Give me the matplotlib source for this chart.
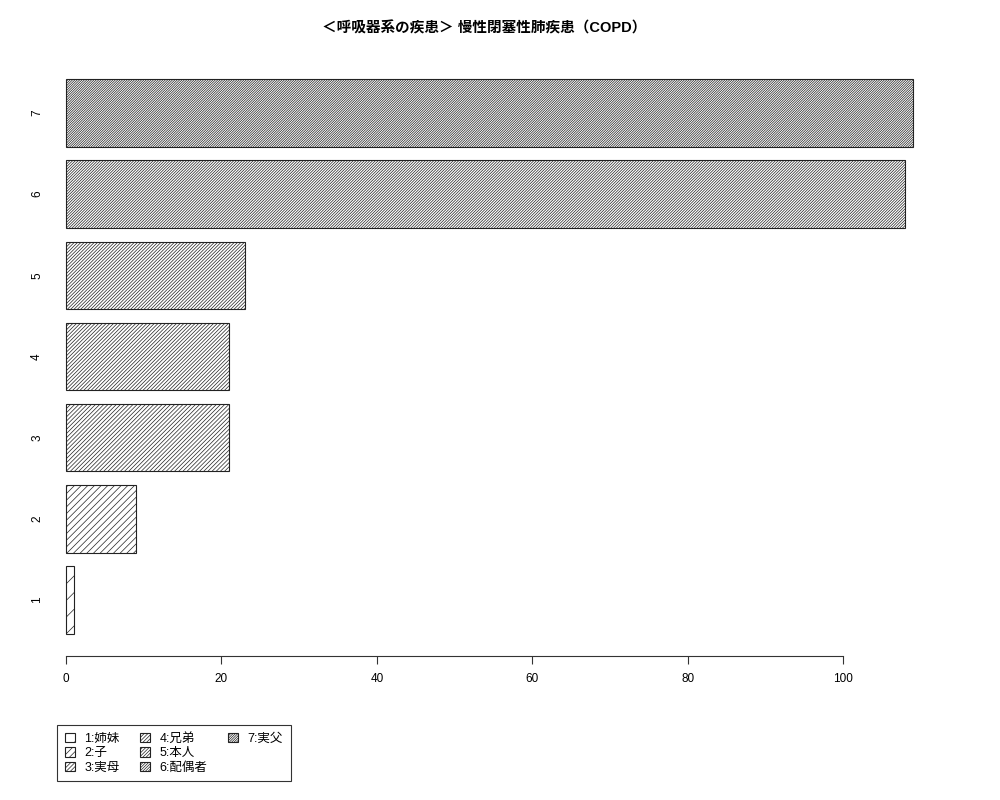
import matplotlib
matplotlib.use("Agg")
import matplotlib.pyplot as plt
from matplotlib.patches import Patch

plt.rcParams["font.family"] = ["Liberation Sans", "Noto Sans CJK JP"]
plt.rcParams["hatch.linewidth"] = 0.5

# data
categories = ["1", "2", "3", "4", "5", "6", "7"]
values = [1, 9, 21, 21, 23, 108, 109]
legend_labels = ["1:姉妹", "2:子", "3:実母", "4:兄弟", "5:本人", "6:配偶者", "7:実父"]
hatch_n = [2, 5, 8, 9, 10, 12, 14]
title = "＜呼吸器系の疾患＞ 慢性閉塞性肺疾患（COPD）"

hatches = ["/" * n for n in hatch_n]

fig = plt.figure(figsize=(10, 8), dpi=100)
ax = fig.add_axes([0.050, 0.18, 0.897, 0.74875])

pos = list(range(1, len(values) + 1))
bars = ax.barh(pos, values, height=1 / 1.2, color="white",
               edgecolor="#222222", linewidth=0.8)
for b, h in zip(bars, hatches):
    b.set_hatch(h)

ax.set_xlim(-2.06, 113.36)
ax.set_ylim(0.31, 7.69)

for s in ["top", "right", "left"]:
    ax.spines[s].set_visible(False)
ax.spines["bottom"].set_bounds(0, 100)
ax.spines["bottom"].set_color("#333333")
ax.spines["bottom"].set_linewidth(0.8)

ax.set_xticks([0, 20, 40, 60, 80, 100])
ax.tick_params(axis="x", length=6, width=0.8, color="#333333",
               labelsize=8.5, pad=6)
ax.set_yticks(pos)
ax.set_yticklabels(categories, rotation=90, va="center")
ax.tick_params(axis="y", length=0, labelsize=8.5, pad=5)

fig.text(0.484, 0.964, title, ha="center", va="center",
         fontsize=10.5, fontweight="bold")

# legend: pad to 9 entries so columns fill 3,3,1 like the original
handles = [Patch(facecolor="white", edgecolor="#222222", hatch=h, linewidth=0.8)
           for h in hatches]
labels = list(legend_labels)
for _ in range(2):
    handles.append(Patch(facecolor="none", edgecolor="none"))
    labels.append("")
leg = fig.legend(handles, labels, ncol=3, loc="upper left",
                 bbox_to_anchor=(0.057, 1 - 725 / 800), fontsize=9,
                 frameon=True, fancybox=False, handlelength=0.8,
                 handleheight=0.8, columnspacing=1.6, labelspacing=0.2,
                 handletextpad=0.8, borderpad=0.6, borderaxespad=0)
leg.get_frame().set_edgecolor("black")
leg.get_frame().set_linewidth(0.8)

fig.savefig("out.png", dpi=100, facecolor="white")
